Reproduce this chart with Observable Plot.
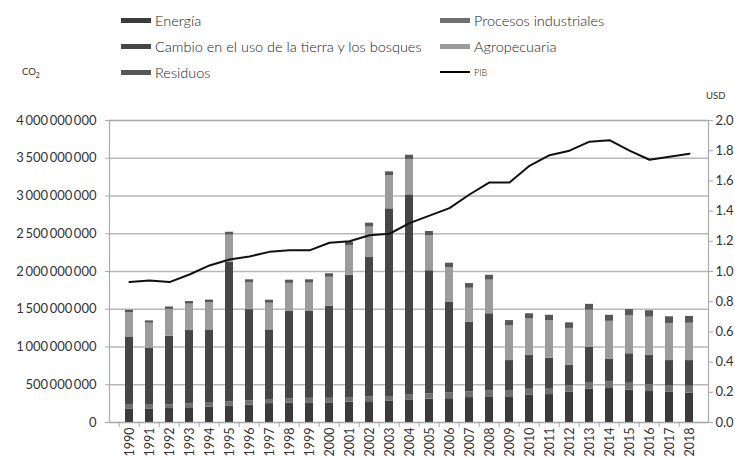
<!DOCTYPE html>
<html><head><meta charset="utf-8">
<script src="https://cdn.jsdelivr.net/npm/d3@7"></script>
<script src="https://cdn.jsdelivr.net/npm/@observablehq/plot@0.6"></script>
<style>
body{margin:0;background:#fff;font-family:Lato,sans-serif;color:#333;}
#wrap{position:relative;width:735px;height:458px;overflow:hidden;}
#head{position:relative;height:100px;}
.item{position:absolute;font-size:14.5px;height:16px;display:flex;align-items:center;white-space:nowrap;font-weight:300;color:#222;}
.sw{width:30px;height:5px;margin-right:4px;flex:none;}
.unit{position:absolute;font-size:9.5px;color:#333;}
#chart svg{display:block;}
</style></head><body>
<div id="wrap"><div id="head"></div><div id="chart"></div></div>
<script>
// Years
const years = [1990,1991,1992,1993,1994,1995,1996,1997,1998,1999,2000,2001,2002,2003,2004,2005,2006,2007,2008,2009,2010,2011,2012,2013,2014,2015,2016,2017,2018];
// Emissions, millions of tonnes CO2
const energia  = [180,180,185,195,205,220,230,250,255,260,260,270,275,280,300,310,315,330,340,340,360,370,400,440,450,430,410,400,390];
const procesos = [50,50,50,50,50,55,55,55,60,60,60,60,65,65,70,70,75,75,80,75,80,80,85,90,90,90,90,90,90];
const cambio   = [896,755,908,973,971,1845,1210,921,1155,1150,1220,1620,1845,2485,2645,1630,1200,925,1020,405,450,400,272,464,300,390,390,330,340];
const agro     = [330,330,355,350,360,363,356,354,373,376,384,392,405,438,470,463,460,448,446,463,481,498,489,494,500,502,505,492,495];
const residuos = [30,31,32,34,35,37,39,40,42,44,46,48,50,52,55,57,60,62,64,67,69,72,74,77,80,83,85,88,90];
// PIB (USD, right axis)
const pib = [0.93,0.94,0.93,0.98,1.04,1.08,1.10,1.13,1.14,1.14,1.19,1.20,1.24,1.25,1.32,1.37,1.42,1.51,1.59,1.59,1.70,1.77,1.80,1.86,1.87,1.80,1.74,1.76,1.78];
// Ticks
const leftTicks = [0,500000000,1000000000,1500000000,2000000000,2500000000,3000000000,3500000000,4000000000];
const rightTicks = [0,0.2,0.4,0.6,0.8,1.0,1.2,1.4,1.6,1.8,2.0];
// Series names & colours (stack order bottom → top)
const seriesNames = ["Energía","Procesos industriales","Cambio en el uso de la tierra y los bosques","Agropecuaria","Residuos"];
const seriesColors = ["#3b3b3b","#707070","#464646","#9c9c9c","#575757"];
const seriesValues = [energia, procesos, cambio, agro, residuos];

const yMax = 4000000000, rightMax = 2.0, k = yMax / rightMax;

// legend
const head = document.getElementById("head");
const legendItems = [
  {name:"Energía", col:0, row:0},
  {name:"Cambio en el uso de la tierra y los bosques", col:0, row:1},
  {name:"Residuos", col:0, row:2},
  {name:"Procesos industriales", col:1, row:0},
  {name:"Agropecuaria", col:1, row:1},
  {name:"PIB", col:1, row:2, line:true}
];
const colX = [121, 440], rowY = [12, 38, 64];
for (const it of legendItems) {
  const d = document.createElement("div");
  d.className = "item";
  d.style.left = colX[it.col] + "px";
  d.style.top = rowY[it.row] + "px";
  const sw = document.createElement("span");
  sw.className = "sw";
  if (it.line) { sw.style.height = "2.5px"; sw.style.background = "#000"; }
  else sw.style.background = seriesColors[seriesNames.indexOf(it.name)];
  d.appendChild(sw);
  const t = document.createElement("span");
  t.textContent = it.name;
  if (it.line) t.style.fontSize = "9px";
  d.appendChild(t);
  head.appendChild(d);
}
const co2 = document.createElement("div");
co2.className = "unit"; co2.style.left = "22px"; co2.style.top = "66px";
co2.innerHTML = "CO<sub style='font-size:7px'>2</sub>";
head.appendChild(co2);
const usd = document.createElement("div");
usd.className = "unit"; usd.style.left = "706px"; usd.style.top = "90px";
usd.textContent = "USD";
head.appendChild(usd);

// data table
const rows = [];
seriesNames.forEach((s, j) => years.forEach((y, i) => rows.push({year: y, serie: s, value: seriesValues[j][i] * 1e6})));
const pibRows = years.map((y, i) => ({year: y, pib: pib[i]}));

const fmt = d3.formatLocale({decimal: ".", thousands: "\u2009", grouping: [3], currency: ["", ""]}).format(",d");
const width = 735, marginLeft = 109, marginRight = 27;
const halfStep = (width - marginLeft - marginRight) / years.length / 2;

const chart = Plot.plot({
  width, height: 358,
  marginTop: 20, marginBottom: 36, marginLeft, marginRight,
  style: {fontFamily: "Lato, sans-serif", fontSize: "13px", color: "#333", background: "#fff"},
  x: {type: "band", domain: years, paddingInner: 0.6, paddingOuter: 0.3, label: null},
  y: {domain: [0, yMax], label: null},
  color: {domain: seriesNames, range: seriesColors},
  marks: [
    Plot.gridY(leftTicks, {stroke: "#b8b8b8", strokeOpacity: 1, strokeWidth: 1.5}),
    Plot.barY(rows, {x: "year", y: "value", fill: "serie"}),
    Plot.frame({stroke: "#aaa", strokeWidth: 1.2}),
    Plot.line(pibRows, {x: "year", y: d => d.pib * k, stroke: "#111", strokeWidth: 2}),
    Plot.axisY(leftTicks, {anchor: "left", tickSize: 4, tickPadding: 9, tickFormat: fmt, stroke: "#aaa", fill: "#333", fontSize: 13, label: null}),
    Plot.axisY(rightTicks.map(v => v * k), {anchor: "right", tickSize: 4, tickPadding: 3, tickFormat: v => (v / k).toFixed(1), stroke: "#aaa", fill: "#333", fontSize: 13, label: null}),
    Plot.axisX({tickRotate: -90, tickSize: 0, tickPadding: 5, tickFormat: d => String(d), fontSize: 12.5, fill: "#333", label: null}),
    Plot.ruleX(years, {x: d => d, y1: 0, y2: 0, insetBottom: -5, dx: -halfStep, stroke: "#aaa"})
  ]
});
document.getElementById("chart").appendChild(chart);
</script>
</body></html>
